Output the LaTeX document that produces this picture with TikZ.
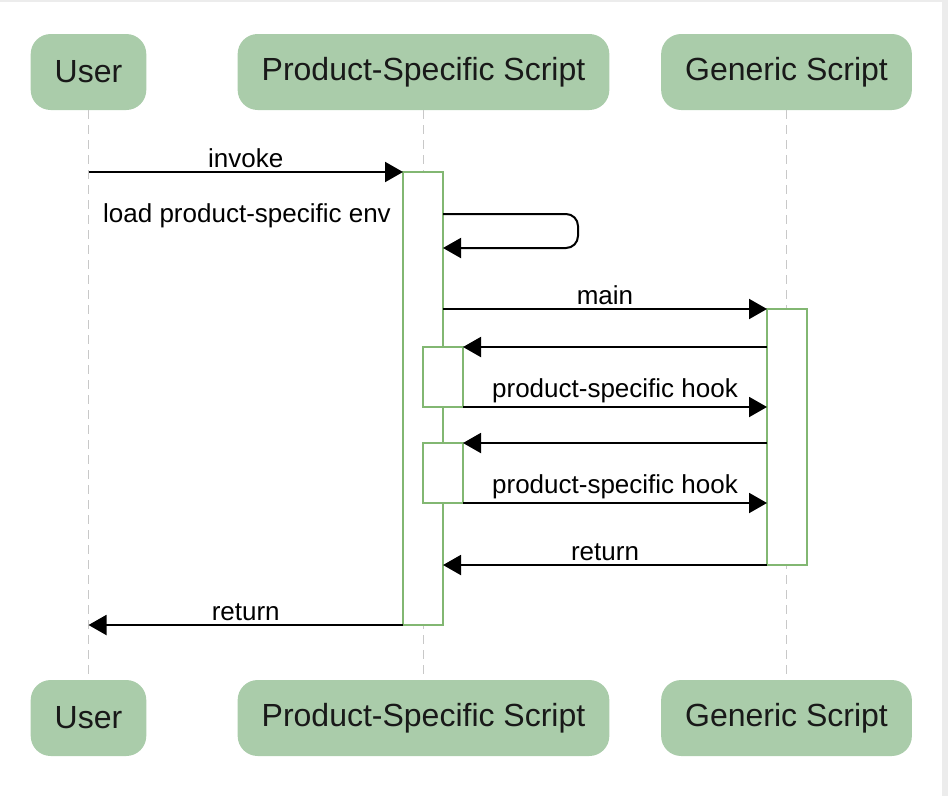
\documentclass[tikz,border=0pt]{standalone}
\usepackage{fontspec}
\setmainfont{Liberation Sans}
\usetikzlibrary{arrows.meta}

\definecolor{actorfill}{RGB}{170,204,170}
\definecolor{barline}{RGB}{130,183,114}
\definecolor{lifegray}{RGB}{200,200,200}
\definecolor{framegray}{RGB}{236,236,236}

\begin{document}
\begin{tikzpicture}[
  x=1pt, y=-1pt,
  actor/.style={rounded corners=20pt,fill=actorfill,minimum height=76pt,inner xsep=24pt,
    text=black!90,font=\fontsize{32}{38}\selectfont},
  bar/.style={draw=barline,fill=white,line width=1.5pt,minimum width=40pt,inner sep=0pt,outer sep=0pt,anchor=north west},
  life/.style={lifegray,line width=1.5pt,dash pattern=on 9pt off 6pt},
  msg/.style={line width=2pt,-{Triangle[length=18pt,width=20pt]}},
  lbl/.style={font=\fontsize{26}{31}\selectfont,inner sep=3pt}
]
\useasboundingbox (0,0) rectangle (948,796);
\fill[framegray] (0,0) rectangle (948,2);
\fill[framegray] (942,0) rectangle (948,796);

% participants, top and bottom
\node[actor] (user)  at (88.5,72)  {User};
\node[actor] (prod)  at (423.5,72) {Product-Specific Script};
\node[actor] (gen)   at (786.5,72) {Generic Script};
\node[actor] (userB) at (88.5,718)  {User};
\node[actor] (prodB) at (423.5,718) {Product-Specific Script};
\node[actor] (genB)  at (786.5,718) {Generic Script};

% lifelines
\draw[life] (user.south) -- (userB.north);
\draw[life] (prod.south) -- (prodB.north);
\draw[life] (gen.south) -- (genB.north);

% activations
\node[bar,minimum height=453pt] (pa)  at (403,172) {};
\node[bar,minimum height=256pt] (ga)  at (767,309) {};
\node[bar,minimum height=60pt]  (ph1) at (423,347) {};
\node[bar,minimum height=60pt]  (ph2) at (423,443) {};

% messages
\draw[msg] (user |- pa.north) -- (pa.north west) node[lbl,midway,above] {invoke};
\coordinate (loopS) at (443,214);
\coordinate (loopE) at (443,248);
\draw[msg,rounded corners=12pt] (loopS) -- ++(135,0) -- ++(0,34) -- (loopE);
\node[lbl,anchor=east,inner sep=0pt] (envlbl) at (391,216) {load product-specific env};
\draw[msg] (pa.east |- ga.north) -- (ga.north west) node[lbl,midway,above] {main};
\draw[msg] (ga.west |- ph1.north) -- (ph1.north east);
\draw[msg] (ph1.south east) -- (ga.west |- ph1.south) node[lbl,midway,above] {product-specific hook};
\draw[msg] (ga.west |- ph2.north) -- (ph2.north east);
\draw[msg] (ph2.south east) -- (ga.west |- ph2.south) node[lbl,midway,above] {product-specific hook};
\draw[msg] (ga.south west) -- (pa.east |- ga.south) node[lbl,midway,above] {return};
\draw[msg] (pa.south west) -- (user |- pa.south) node[lbl,midway,above] {return};
\end{tikzpicture}
\end{document}
